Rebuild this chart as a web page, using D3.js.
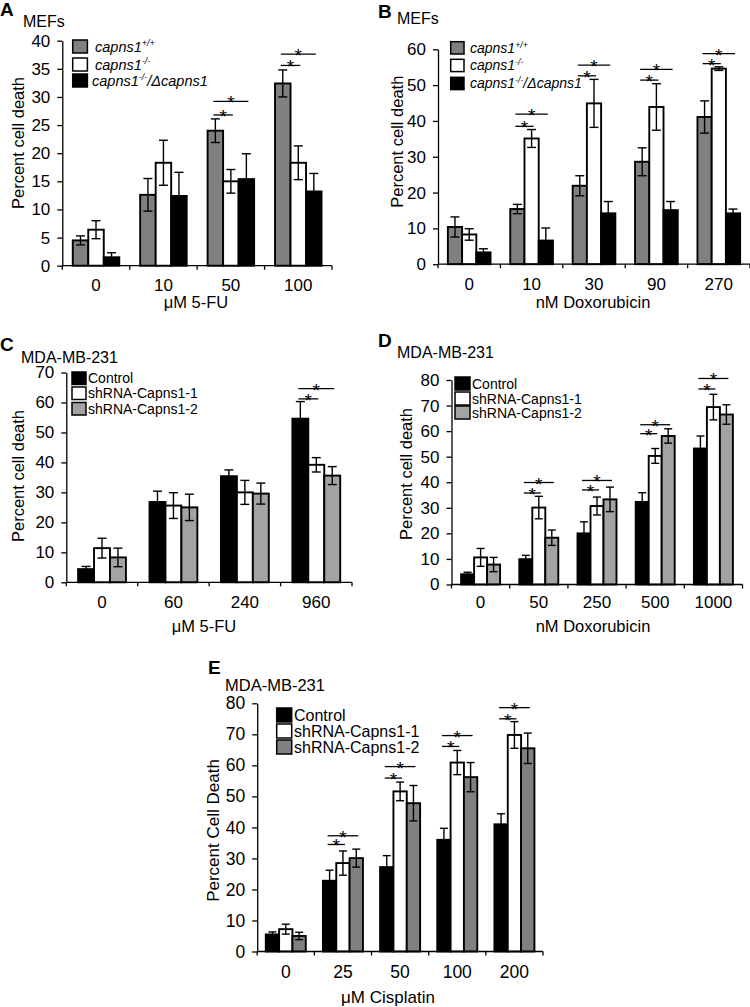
<!DOCTYPE html>
<html><head><meta charset="utf-8">
<script src="https://cdn.jsdelivr.net/npm/d3@7"></script>
<style>body{margin:0;background:#fff}svg{display:block}</style>
</head><body>
<svg id="c" width="750" height="1007"></svg>
<script>
// ---------------- DATA ----------------
// Panel A: MEFs, 5-FU (uM)
const aCategories = ["0", "10", "50", "100"];
const aWt = [4.5, 12.6, 24.0, 32.4];
const aWtErr = [0.8, 2.9, 2.1, 2.4];
const aKo = [6.4, 18.3, 15.0, 18.3];
const aKoErr = [1.6, 4.0, 2.1, 3.0];
const aRescue = [1.5, 12.4, 15.4, 13.2];
const aRescueErr = [0.8, 4.2, 4.5, 3.2];
const aYTicks = [0, 5, 10, 15, 20, 25, 30, 35, 40];
// [group index, compared series index, bracket level]
const aSig = [[2, 1, 26.8], [2, 2, 29.2], [3, 1, 35.6], [3, 2, 37.6]];

// Panel B: MEFs, Doxorubicin (nM)
const bCategories = ["0", "10", "30", "90", "270"];
const bWt = [10.4, 15.4, 21.9, 28.6, 41.1];
const bWtErr = [2.8, 1.3, 2.8, 3.9, 4.5];
const bKo = [8.3, 35.1, 44.9, 43.9, 54.6];
const bKoErr = [1.6, 2.5, 6.7, 6.5, 0.5];
const bRescue = [3.3, 6.6, 14.2, 15.1, 14.2];
const bRescueErr = [1.0, 3.5, 3.3, 2.4, 1.2];
const bYTicks = [0, 10, 20, 30, 40, 50, 60];
const bSig = [[1, 1, 38.5], [1, 2, 41.9], [2, 1, 52.6], [2, 2, 55.6], [3, 1, 51.4], [3, 2, 54.4], [4, 1, 56.0], [4, 2, 58.8]];

// Panel C: MDA-MB-231, 5-FU (uM)
const cCategories = ["0", "60", "240", "960"];
const cControl = [4.4, 26.8, 35.4, 54.6];
const cControlErr = [0.9, 3.6, 2.1, 5.7];
const cSh1 = [11.4, 25.6, 30.0, 39.2];
const cSh1Err = [3.3, 4.3, 4.0, 2.4];
const cSh2 = [8.3, 25.0, 29.6, 35.6];
const cSh2Err = [3.1, 4.4, 3.5, 3.0];
const cYTicks = [0, 10, 20, 30, 40, 50, 60, 70];
const cSig = [[3, 1, 61.2], [3, 2, 64.6]];

// Panel D: MDA-MB-231, Doxorubicin (nM)
const dCategories = ["0", "50", "250", "500", "1000"];
const dControl = [4.0, 9.9, 20.0, 32.3, 53.2];
const dControlErr = [0.8, 1.5, 4.5, 3.6, 4.9];
const dSh1 = [10.6, 30.1, 30.7, 50.3, 69.4];
const dSh1Err = [3.5, 4.4, 3.5, 2.9, 5.0];
const dSh2 = [7.8, 18.3, 33.3, 58.1, 66.5];
const dSh2Err = [2.8, 3.0, 4.8, 2.8, 3.8];
const dYTicks = [0, 10, 20, 30, 40, 50, 60, 70, 80];
const dSig = [[1, 1, 35.8], [1, 2, 39.9], [2, 1, 37.0], [2, 2, 40.7], [3, 1, 59.0], [3, 2, 62.5], [4, 1, 76.5], [4, 2, 80.6]];

// Panel E: MDA-MB-231, Cisplatin (uM)
const eCategories = ["0", "25", "50", "100", "200"];
const eControl = [5.5, 22.8, 27.2, 36.0, 41.0];
const eControlErr = [0.8, 3.4, 3.7, 3.7, 3.4];
const eSh1 = [7.2, 28.5, 51.6, 60.9, 69.8];
const eSh1Err = [1.6, 3.9, 3.0, 3.9, 4.3];
const eSh2 = [5.0, 30.1, 47.8, 56.2, 65.5];
const eSh2Err = [1.2, 2.9, 5.7, 4.7, 4.9];
const eYTicks = [0, 10, 20, 30, 40, 50, 60, 70, 80];
const eSig = [[1, 1, 34.5], [1, 2, 37.3], [2, 1, 55.9], [2, 2, 59.6], [3, 1, 66.1], [3, 2, 69.6], [4, 1, 75.0], [4, 2, 78.6]];

// legend labels (segments; sup = superscript)
const mefLabels = [
  [{t: "capns1"}, {t: "+/+", sup: true}],
  [{t: "capns1"}, {t: "-/-", sup: true}],
  [{t: "capns1"}, {t: "-/-", sup: true}, {t: "/Δcapns1"}]
];
const shLabels = [[{t: "Control"}], [{t: "shRNA-Capns1-1"}], [{t: "shRNA-Capns1-2"}]];

// ---------------- DRAWING ----------------
const FONT = "'Liberation Sans', Arial, Helvetica, sans-serif";
const svg = d3.select("#c");
svg.append("rect").attr("width", 750).attr("height", 1007).attr("fill", "#fff");

function drawPanel(o) {
  const g = svg.append("g");
  const x = d3.scaleBand().domain(o.cats).range([o.x0, o.x1]).padding(0);
  const n = o.series.length;
  const p = (n / o.frac - n) / 2;
  const xs = d3.scaleBand().domain(d3.range(n)).range([0, x.bandwidth()]).paddingInner(0).paddingOuter(p);
  const y = d3.scaleLinear().domain([0, o.yMax]).range([o.yZero, o.yTop]);
  const cx = (gi, si) => x(o.cats[gi]) + xs(si) + xs.bandwidth() / 2;

  // bars
  o.series.forEach((s, si) => {
    g.append("g").selectAll("rect").data(s.values).enter().append("rect")
      .attr("x", (d, i) => x(o.cats[i]) + xs(si))
      .attr("y", d => y(d))
      .attr("width", xs.bandwidth())
      .attr("height", d => y(0) - y(d))
      .attr("fill", s.color).attr("stroke", "#000").attr("stroke-width", 1.9);
  });
  // error bars
  o.series.forEach((s, si) => {
    const eg = g.append("g").attr("stroke", "#000").attr("stroke-width", 1.4).attr("fill", "none");
    s.values.forEach((v, i) => {
      const e = s.err[i];
      const c = cx(i, si);
      const hi = y(v + e), lo = y(Math.max(0, v - e));
      eg.append("line").attr("x1", c).attr("x2", c).attr("y1", hi).attr("y2", lo);
      eg.append("line").attr("x1", c - o.cap / 2).attr("x2", c + o.cap / 2).attr("y1", hi).attr("y2", hi);
      eg.append("line").attr("x1", c - o.cap / 2).attr("x2", c + o.cap / 2).attr("y1", lo).attr("y2", lo);
    });
  });
  // significance brackets
  const sg = g.append("g");
  o.sig.forEach(([gi, si, lvl]) => {
    const xa = cx(gi, 0) - 2, xb = cx(gi, si) + 2, yy = y(lvl);
    sg.append("line").attr("x1", xa).attr("x2", xb).attr("y1", yy).attr("y2", yy)
      .attr("stroke", "#000").attr("stroke-width", 1.3);
    sg.append("text").attr("x", (xa + xb) / 2).attr("y", yy + 8).attr("text-anchor", "middle")
      .attr("fill", "#000").attr("font-family", FONT).attr("font-size", 19).text("*");
  });

  // y axis
  const ya = g.append("g").attr("transform", `translate(${o.x0},0)`)
    .call(d3.axisLeft(y).tickValues(o.yTicks).tickSize(5).tickSizeOuter(0).tickPadding(7).tickFormat(d3.format("d")));
  ya.attr("font-family", FONT).attr("font-size", o.tickFont);
  ya.selectAll("path,line").attr("stroke", "#000").attr("stroke-width", 1.3);
  ya.selectAll("text").attr("fill", "#000");

  // x axis (ticks at band edges, labels at band centres)
  const xa = g.append("g");
  xa.append("line").attr("x1", o.x0).attr("x2", o.x1).attr("y1", o.yZero).attr("y2", o.yZero)
    .attr("stroke", "#000").attr("stroke-width", 1.3);
  const edges = o.cats.map(c => x(c)).concat([o.x1]);
  xa.selectAll(".tk").data(edges).enter().append("line")
    .attr("x1", d => d).attr("x2", d => d).attr("y1", o.yZero).attr("y2", o.yZero + 4)
    .attr("stroke", "#000").attr("stroke-width", 1.3);
  xa.selectAll(".lb").data(o.cats).enter().append("text")
    .attr("x", d => x(d) + x.bandwidth() / 2).attr("y", o.tickBase)
    .attr("text-anchor", "middle").attr("font-family", FONT).attr("font-size", o.tickFont).text(d => d);
  // axis titles
  g.append("text").attr("x", o.xTitleX).attr("y", o.xTitleBase).attr("text-anchor", "middle")
    .attr("font-family", FONT).attr("font-size", o.titleFont).text(o.xTitle);
  g.append("text").attr("transform", `translate(${o.yTitleX},${o.yTitleY}) rotate(-90)`)
    .attr("dy", "0.35em").attr("text-anchor", "middle")
    .attr("font-family", FONT).attr("font-size", o.titleFont).text(o.yTitle);

  // legend
  const lg = g.append("g");
  o.series.forEach((s, si) => {
    lg.append("rect").attr("x", o.leg.x).attr("y", o.leg.tops[si]).attr("width", o.leg.w).attr("height", o.leg.h)
      .attr("fill", s.color).attr("stroke", "#000").attr("stroke-width", 1.5);
    const t = lg.append("text").attr("x", o.leg.tx[si]).attr("y", o.leg.tops[si] + o.leg.h / 2 + o.leg.font * 0.36)
      .attr("font-family", FONT).attr("font-size", o.leg.font)
      .attr("font-style", o.leg.italic ? "italic" : "normal");
    let shifted = false;
    s.label.forEach(seg => {
      const ts = t.append("tspan").text(seg.t);
      if (seg.sup) {
        ts.attr("font-size", o.leg.font * 0.62).attr("dy", -o.leg.font * 0.38);
        shifted = true;
      } else if (shifted) {
        ts.attr("dy", o.leg.font * 0.38);
        shifted = false;
      }
    });
  });

  // panel letter and subtitle
  g.append("text").attr("x", o.letter[0]).attr("y", o.letter[1]).attr("font-family", FONT)
    .attr("font-weight", "bold").attr("font-size", 19).text(o.letter[2]);
  g.append("text").attr("x", o.sub[0]).attr("y", o.sub[1]).attr("font-family", FONT)
    .attr("font-size", o.sub[3]).text(o.sub[2]);
}

const GRAY_MEF = "#808080", GRAY_CD = "#a3a3a3", GRAY_E = "#808080";

drawPanel({
  cats: aCategories, x0: 62.3, x1: 332, yZero: 265.7, yTop: 40.7, yMax: 40, yTicks: aYTicks, frac: 0.69, cap: 9,
  series: [
    {values: aWt, err: aWtErr, color: GRAY_MEF, label: mefLabels[0]},
    {values: aKo, err: aKoErr, color: "#fff", label: mefLabels[1]},
    {values: aRescue, err: aRescueErr, color: "#000", label: mefLabels[2]}
  ],
  sig: aSig, tickFont: 17, titleFont: 16.5, tickBase: 290.5,
  xTitle: "μM 5-FU", xTitleX: 196, xTitleBase: 307.5, yTitle: "Percent cell death", yTitleX: 18.5, yTitleY: 143,
  leg: {x: 72.7, w: 14.7, h: 13, tops: [40, 58, 74], tx: [95, 95, 92], font: 14.5, italic: true},
  letter: [0, 16, "A"], sub: [23, 27, "MEFs", 16]
});

drawPanel({
  cats: bCategories, x0: 438, x1: 750, yZero: 264.2, yTop: 49.3, yMax: 60, yTicks: bYTicks, frac: 0.684, cap: 9,
  series: [
    {values: bWt, err: bWtErr, color: GRAY_MEF, label: mefLabels[0]},
    {values: bKo, err: bKoErr, color: "#fff", label: mefLabels[1]},
    {values: bRescue, err: bRescueErr, color: "#000", label: mefLabels[2]}
  ],
  sig: bSig, tickFont: 17, titleFont: 16.5, tickBase: 290,
  xTitle: "nM Doxorubicin", xTitleX: 593, xTitleBase: 307.5, yTitle: "Percent cell death", yTitleX: 397.5, yTitleY: 141.7,
  leg: {x: 450.7, w: 13.3, h: 12.3, tops: [41.7, 59.3, 77.3], tx: [470, 470, 470], font: 14, italic: true},
  letter: [378, 18, "B"], sub: [397, 24, "MEFs", 16]
});

drawPanel({
  cats: cCategories, x0: 66.3, x1: 352, yZero: 582.3, yTop: 372.5, yMax: 70, yTicks: cYTicks, frac: 0.67, cap: 9,
  series: [
    {values: cControl, err: cControlErr, color: "#000", label: shLabels[0]},
    {values: cSh1, err: cSh1Err, color: "#fff", label: shLabels[1]},
    {values: cSh2, err: cSh2Err, color: GRAY_CD, label: shLabels[2]}
  ],
  sig: cSig, tickFont: 17, titleFont: 16.5, tickBase: 608,
  xTitle: "μM 5-FU", xTitleX: 204, xTitleBase: 632, yTitle: "Percent cell death", yTitleX: 17.8, yTitleY: 476,
  leg: {x: 72, w: 14, h: 12.5, tops: [372, 387, 402.5], tx: [88, 88, 88], font: 14, italic: false},
  letter: [0, 351, "C"], sub: [21, 362.5, "MDA-MB-231", 16]
});

drawPanel({
  cats: dCategories, x0: 451.5, x1: 742.5, yZero: 584.5, yTop: 380, yMax: 80, yTicks: dYTicks, frac: 0.67, cap: 8,
  series: [
    {values: dControl, err: dControlErr, color: "#000", label: shLabels[0]},
    {values: dSh1, err: dSh1Err, color: "#fff", label: shLabels[1]},
    {values: dSh2, err: dSh2Err, color: GRAY_CD, label: shLabels[2]}
  ],
  sig: dSig, tickFont: 17, titleFont: 16.5, tickBase: 608,
  xTitle: "nM Doxorubicin", xTitleX: 593, xTitleBase: 632, yTitle: "Percent cell death", yTitleX: 406, yTitleY: 474,
  leg: {x: 455, w: 15, h: 13, tops: [377, 392, 406], tx: [472, 472, 472], font: 14, italic: false},
  letter: [378, 347, "D"], sub: [397, 358, "MDA-MB-231", 16]
});

drawPanel({
  cats: eCategories, x0: 257.2, x1: 543, yZero: 951.5, yTop: 703.3, yMax: 80, yTicks: eYTicks, frac: 0.70, cap: 8,
  series: [
    {values: eControl, err: eControlErr, color: "#000", label: shLabels[0]},
    {values: eSh1, err: eSh1Err, color: "#fff", label: shLabels[1]},
    {values: eSh2, err: eSh2Err, color: GRAY_E, label: shLabels[2]}
  ],
  sig: eSig, tickFont: 17.5, titleFont: 17, tickBase: 978,
  xTitle: "μM Cisplatin", xTitleX: 388, xTitleBase: 1003, yTitle: "Percent Cell Death", yTitleX: 213, yTitleY: 830.5,
  leg: {x: 276.7, w: 15, h: 14, tops: [708, 724, 740], tx: [294, 294, 294], font: 16, italic: false},
  letter: [208, 674, "E"], sub: [225, 690.5, "MDA-MB-231", 16.5]
});
</script>
</body></html>
